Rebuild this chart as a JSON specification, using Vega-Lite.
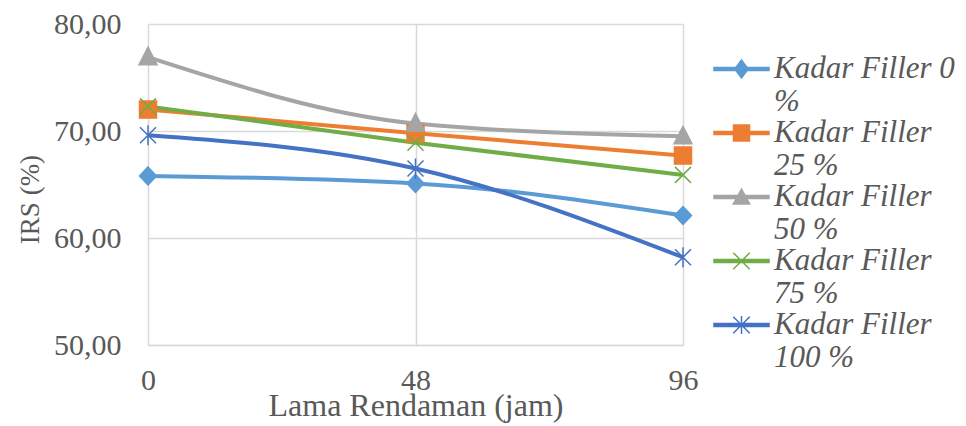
{
  "$schema": "https://vega.github.io/schema/vega-lite/v6.json",
  "width": 535,
  "height": 321,
  "autosize": "none",
  "padding": {"left": 148, "top": 24, "right": 283, "bottom": 81},
  "background": "white",
  "config": {"view": {"stroke": null}, "font": "Liberation Serif"},
  "data": {"values": [
    {"series": "Kadar Filler 0 %", "h": 0, "irs": 65.8},
    {"series": "Kadar Filler 0 %", "h": 48, "irs": 65.1},
    {"series": "Kadar Filler 0 %", "h": 96, "irs": 62.1},
    {"series": "Kadar Filler 25 %", "h": 0, "irs": 72.0},
    {"series": "Kadar Filler 25 %", "h": 48, "irs": 69.8},
    {"series": "Kadar Filler 25 %", "h": 96, "irs": 67.7},
    {"series": "Kadar Filler 50 %", "h": 0, "irs": 76.9},
    {"series": "Kadar Filler 50 %", "h": 48, "irs": 70.7},
    {"series": "Kadar Filler 50 %", "h": 96, "irs": 69.5},
    {"series": "Kadar Filler 75 %", "h": 0, "irs": 72.3},
    {"series": "Kadar Filler 75 %", "h": 48, "irs": 68.9},
    {"series": "Kadar Filler 75 %", "h": 96, "irs": 65.9},
    {"series": "Kadar Filler 100 %", "h": 0, "irs": 69.6},
    {"series": "Kadar Filler 100 %", "h": 48, "irs": 66.5},
    {"series": "Kadar Filler 100 %", "h": 96, "irs": 58.2}
  ]},
  "encoding": {
    "x": {
      "field": "h", "type": "quantitative",
      "scale": {"domain": [0, 96], "nice": false},
      "axis": {
        "values": [0, 48, 96],
        "labelFlush": false,
        "title": "Lama Rendaman (jam)",
        "titleFont": "Liberation Serif", "titleFontSize": 32, "titleFontWeight": "normal", "titleColor": "#595959",
        "titlePadding": -5,
        "labelFont": "Liberation Serif", "labelFontSize": 30, "labelColor": "#595959", "labelPadding": 20,
        "ticks": false,
        "domainColor": "#D9D9D9", "domainWidth": 1.5,
        "grid": true, "gridColor": "#D9D9D9", "gridWidth": 1.5
      }
    },
    "y": {
      "field": "irs", "type": "quantitative",
      "scale": {"domain": [50, 80], "nice": false, "zero": false},
      "axis": {
        "values": [50, 60, 70, 80],
        "labelFlush": false,
        "labelExpr": "replace(format(datum.value, '.2f'), '.', ',')",
        "title": "IRS (%)",
        "titleFont": "Liberation Serif", "titleFontSize": 27, "titleFontWeight": "normal", "titleColor": "#595959",
        "titleX": -118, "titleY": 175, "titleAlign": "center", "titleBaseline": "middle", "titleAngle": -90,
        "labelFont": "Liberation Serif", "labelFontSize": 30, "labelColor": "#595959", "labelPadding": 27,
        "ticks": false, "domain": false,
        "grid": true, "gridColor": "#D9D9D9", "gridWidth": 1.5
      }
    }
  },
  "layer": [
    {
      "mark": {"type": "line", "strokeWidth": 4, "interpolate": "monotone"},
      "encoding": {
        "color": {
          "field": "series", "type": "nominal",
          "scale": {
            "domain": ["Kadar Filler 0 %", "Kadar Filler 25 %", "Kadar Filler 50 %", "Kadar Filler 75 %", "Kadar Filler 100 %"],
            "range": ["#5B9BD5", "#ED7D31", "#A5A5A5", "#70AD47", "#4472C4"]
          },
          "legend": null
        }
      }
    },
    {
      "mark": {"type": "point", "filled": true, "size": 400, "opacity": 1, "strokeWidth": 1.5},
      "encoding": {
        "color": {
          "field": "series", "type": "nominal",
          "scale": {
            "domain": ["Kadar Filler 0 %", "Kadar Filler 25 %", "Kadar Filler 50 %", "Kadar Filler 75 %", "Kadar Filler 100 %"],
            "range": ["#5B9BD5", "#ED7D31", "#A5A5A5", "#70AD47", "#4472C4"]
          },
          "legend": null
        },
        "stroke": {
          "field": "series", "type": "nominal",
          "scale": {
            "domain": ["Kadar Filler 0 %", "Kadar Filler 25 %", "Kadar Filler 50 %", "Kadar Filler 75 %", "Kadar Filler 100 %"],
            "range": ["#5B9BD5", "#ED7D31", "#A5A5A5", "#70AD47", "#4472C4"]
          },
          "legend": null
        },
        "shape": {
          "field": "series", "type": "nominal",
          "scale": {
            "domain": ["Kadar Filler 0 %", "Kadar Filler 25 %", "Kadar Filler 50 %", "Kadar Filler 75 %", "Kadar Filler 100 %"],
            "range": [
              "M0,-0.9L0.85,0L0,0.9L-0.85,0Z",
              "M-0.85,-0.85H0.85V0.85H-0.85Z",
              "M0,-1L0.9,0.75L-0.9,0.75Z",
              "M-0.8,-0.8L0.8,0.8M-0.8,0.8L0.8,-0.8",
              "M-0.8,-0.8L0.8,0.8M-0.8,0.8L0.8,-0.8M0,-1V1"
            ]
          },
          "legend": null
        }
      }
    },
    {
      "transform": [{"filter": "datum.h < 0"}],
      "mark": {"type": "point", "filled": true, "opacity": 1, "strokeWidth": 1.5},
      "encoding": {
        "color": {
          "field": "series", "type": "nominal",
          "scale": {
            "domain": ["Kadar Filler 0 %", "Kadar Filler 25 %", "Kadar Filler 50 %", "Kadar Filler 75 %", "Kadar Filler 100 %"],
            "range": ["#5B9BD5", "#ED7D31", "#A5A5A5", "#70AD47", "#4472C4"]
          },
          "legend": {
            "title": null,
            "orient": "none",
            "legendX": 565,
            "legendY": 29,
            "symbolSize": 900,
            "symbolStrokeWidth": 1.5,
            "labelExpr": "datum.label == 'Kadar Filler 0 %' ? ['Kadar Filler 0', '%'] : ['Kadar Filler', slice(datum.label, 13)]",
            "labelFont": "Liberation Serif",
            "labelFontSize": 31,
            "labelFontStyle": "italic",
            "labelColor": "#595959",
            "labelLimit": 400,
            "labelOffset": 29,
            "rowPadding": 0
          }
        },
        "stroke": {
          "field": "series", "type": "nominal",
          "scale": {
            "domain": ["Kadar Filler 0 %", "Kadar Filler 25 %", "Kadar Filler 50 %", "Kadar Filler 75 %", "Kadar Filler 100 %"],
            "range": ["#5B9BD5", "#ED7D31", "#A5A5A5", "#70AD47", "#4472C4"]
          }
        },
        "shape": {
          "field": "series", "type": "nominal",
          "scale": {
            "domain": ["Kadar Filler 0 %", "Kadar Filler 25 %", "Kadar Filler 50 %", "Kadar Filler 75 %", "Kadar Filler 100 %"],
            "range": [
              "M-1,-0.092H2.667V0.092H-1ZM0.833,-0.6L1.283,0L0.833,0.6L0.383,0Z",
              "M-1,-0.092H2.667V0.092H-1ZM0.3,-0.53H1.366V0.53H0.3Z",
              "M-1,-0.092H2.667V0.092H-1ZM0.833,-0.53L1.383,0.46L0.283,0.46Z",
              "M-1,-0.092H2.667V0.092H-1ZM0.283,-0.55L1.383,0.55M0.283,0.55L1.383,-0.55",
              "M-1,-0.092H2.667V0.092H-1ZM0.283,-0.55L1.383,0.55M0.283,0.55L1.383,-0.55M0.833,-0.6V0.6"
            ]
          }
        }
      }
    }
  ],
  "resolve": {"scale": {"color": "independent", "stroke": "independent", "shape": "independent"}}
}
